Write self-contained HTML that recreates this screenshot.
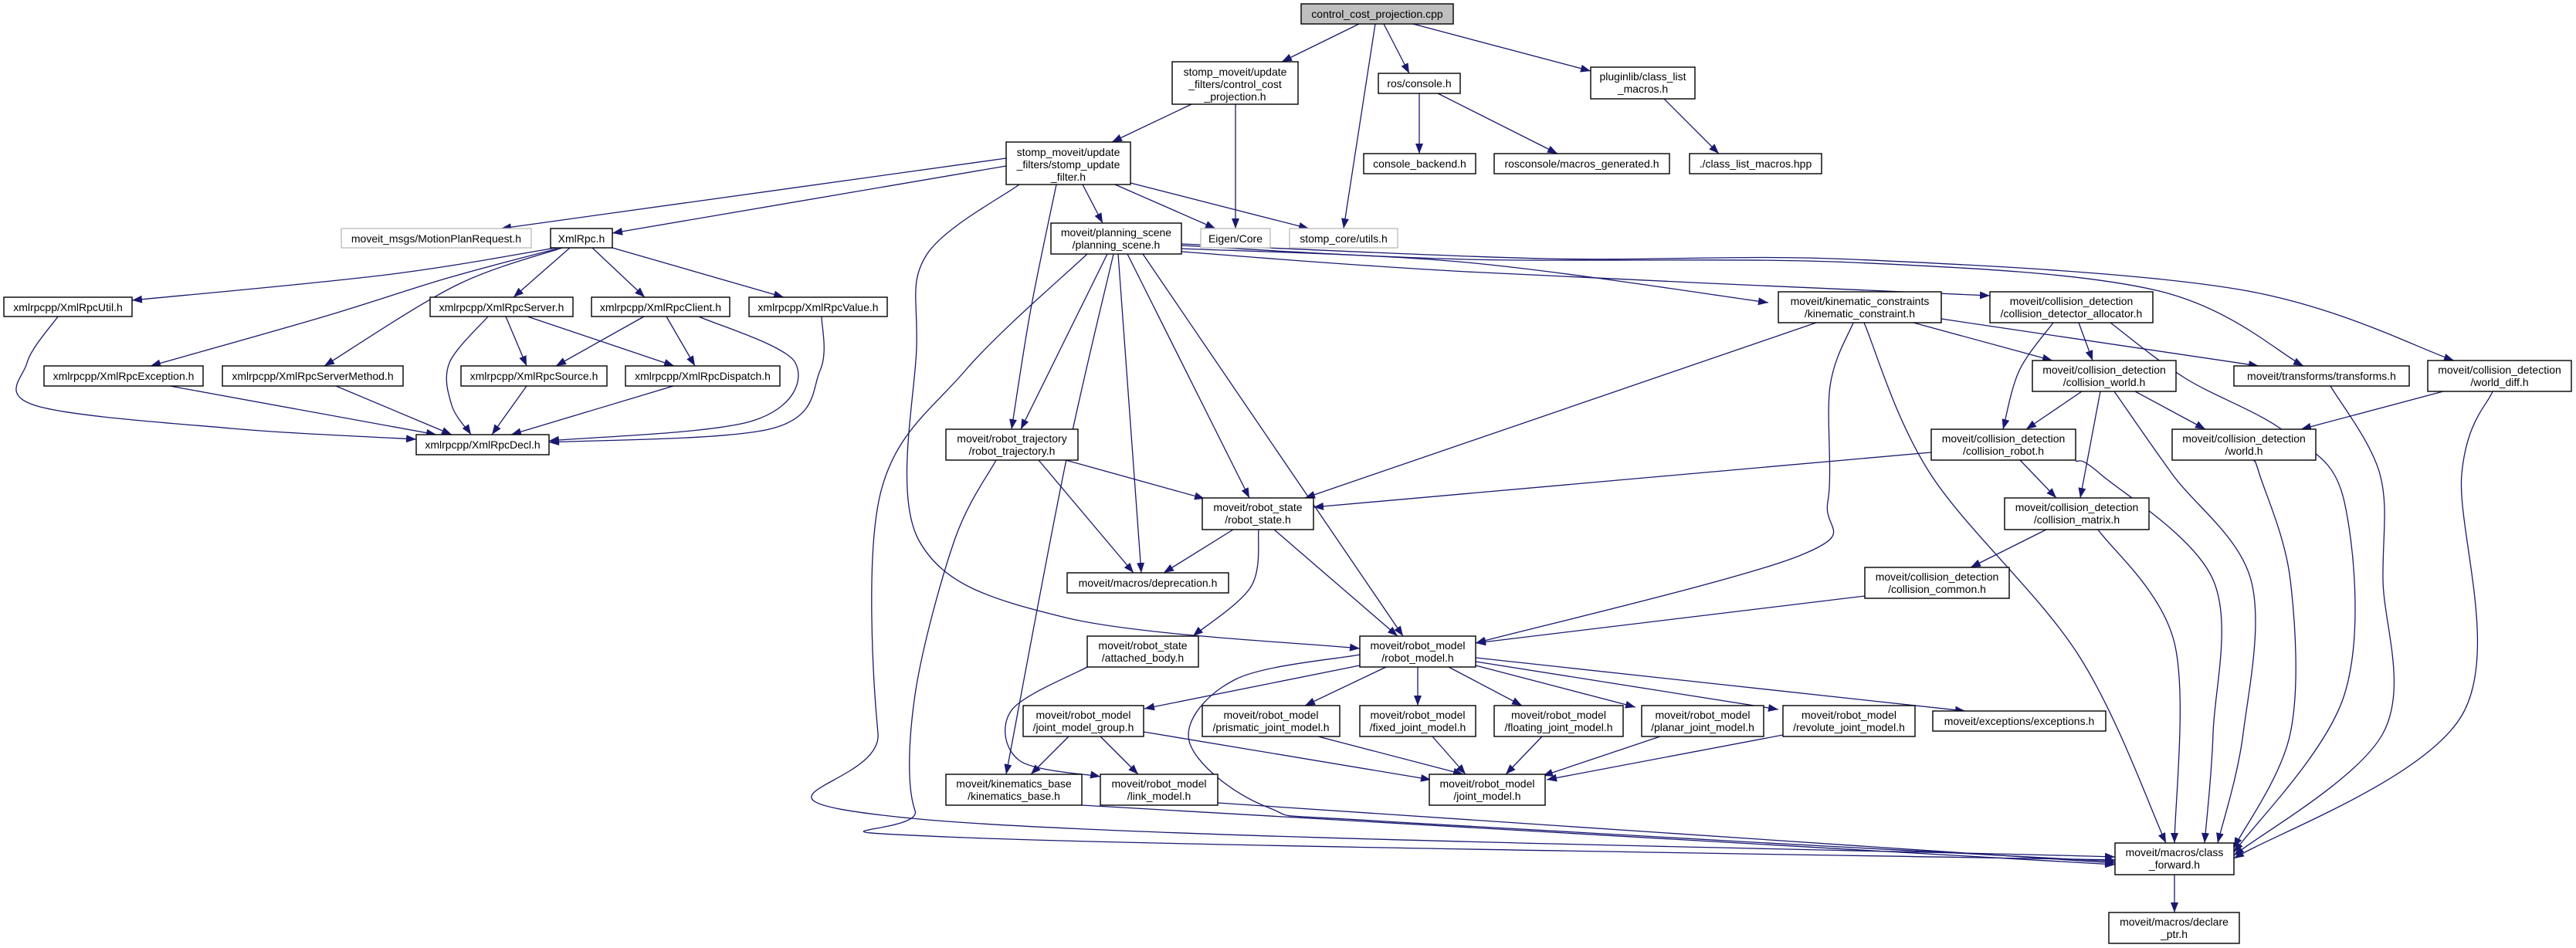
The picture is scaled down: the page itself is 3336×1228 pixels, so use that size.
<!DOCTYPE html>
<html><head><meta charset="utf-8">
<style>
html,body{margin:0;padding:0;background:#fff;}
svg{display:block;}
text{font-family:"Liberation Sans",sans-serif;font-size:14px;fill:#000;}
</style></head>
<body>
<svg id="g" width="3336" height="1228" viewBox="0 0 3336 1228" xmlns="http://www.w3.org/2000/svg">
<defs>
<marker id="ah" markerUnits="userSpaceOnUse" markerWidth="14" markerHeight="10" refX="13" refY="5" orient="auto">
<path d="M0,0 L13,5 L0,10 z" fill="#191970"/>
</marker>
</defs>
<g id="edges" fill="none" stroke="#191970" stroke-width="1.3"></g>
<g id="nodes" stroke-width="1.4">
<rect x="1685" y="5" width="197" height="26" fill="#bfbfbf" stroke="#000"/><text x="1783.5" y="23" text-anchor="middle">control_cost_projection.cpp</text>
<rect x="1518" y="80" width="163" height="55" fill="#fff" stroke="#000"/><text x="1599.5" y="98" text-anchor="middle">stomp_moveit/update</text><text x="1599.5" y="114" text-anchor="middle">_filters/control_cost</text><text x="1599.5" y="130" text-anchor="middle">_projection.h</text>
<rect x="1785" y="95" width="106" height="26" fill="#fff" stroke="#000"/><text x="1838" y="113" text-anchor="middle">ros/console.h</text>
<rect x="2060" y="87" width="135" height="41" fill="#fff" stroke="#000"/><text x="2127.5" y="104" text-anchor="middle">pluginlib/class_list</text><text x="2127.5" y="120" text-anchor="middle">_macros.h</text>
<rect x="1766" y="199" width="145" height="26" fill="#fff" stroke="#000"/><text x="1838.5" y="217" text-anchor="middle">console_backend.h</text>
<rect x="1935" y="199" width="227" height="26" fill="#fff" stroke="#000"/><text x="2048.5" y="217" text-anchor="middle">rosconsole/macros_generated.h</text>
<rect x="2188" y="199" width="171" height="26" fill="#fff" stroke="#000"/><text x="2273.5" y="217" text-anchor="middle">./class_list_macros.hpp</text>
<rect x="1303" y="184" width="161" height="55" fill="#fff" stroke="#000"/><text x="1383.5" y="202" text-anchor="middle">stomp_moveit/update</text><text x="1383.5" y="218" text-anchor="middle">_filters/stomp_update</text><text x="1383.5" y="234" text-anchor="middle">_filter.h</text>
<rect x="442" y="296" width="246" height="25" fill="#fff" stroke="#bfbfbf"/><text x="565" y="314" text-anchor="middle">moveit_msgs/MotionPlanRequest.h</text>
<rect x="713" y="296" width="80" height="25" fill="#fff" stroke="#000"/><text x="753" y="314" text-anchor="middle">XmlRpc.h</text>
<rect x="1555" y="296" width="90" height="25" fill="#fff" stroke="#bfbfbf"/><text x="1600" y="314" text-anchor="middle">Eigen/Core</text>
<rect x="1670" y="296" width="140" height="25" fill="#fff" stroke="#bfbfbf"/><text x="1740" y="314" text-anchor="middle">stomp_core/utils.h</text>
<rect x="1361" y="289" width="169" height="40" fill="#fff" stroke="#000"/><text x="1445.5" y="306" text-anchor="middle">moveit/planning_scene</text><text x="1445.5" y="322" text-anchor="middle">/planning_scene.h</text>
<rect x="5" y="385" width="166" height="25" fill="#fff" stroke="#000"/><text x="88" y="403" text-anchor="middle">xmlrpcpp/XmlRpcUtil.h</text>
<rect x="557" y="385" width="185" height="25" fill="#fff" stroke="#000"/><text x="649.5" y="403" text-anchor="middle">xmlrpcpp/XmlRpcServer.h</text>
<rect x="766" y="385" width="179" height="25" fill="#fff" stroke="#000"/><text x="855.5" y="403" text-anchor="middle">xmlrpcpp/XmlRpcClient.h</text>
<rect x="970" y="385" width="179" height="25" fill="#fff" stroke="#000"/><text x="1059.5" y="403" text-anchor="middle">xmlrpcpp/XmlRpcValue.h</text>
<rect x="57" y="474" width="206" height="26" fill="#fff" stroke="#000"/><text x="160" y="492" text-anchor="middle">xmlrpcpp/XmlRpcException.h</text>
<rect x="288" y="474" width="234" height="26" fill="#fff" stroke="#000"/><text x="405" y="492" text-anchor="middle">xmlrpcpp/XmlRpcServerMethod.h</text>
<rect x="597" y="474" width="189" height="26" fill="#fff" stroke="#000"/><text x="691.5" y="492" text-anchor="middle">xmlrpcpp/XmlRpcSource.h</text>
<rect x="810" y="474" width="200" height="26" fill="#fff" stroke="#000"/><text x="910" y="492" text-anchor="middle">xmlrpcpp/XmlRpcDispatch.h</text>
<rect x="539" y="563" width="172" height="26" fill="#fff" stroke="#000"/><text x="625" y="581" text-anchor="middle">xmlrpcpp/XmlRpcDecl.h</text>
<rect x="2303" y="378" width="211" height="40" fill="#fff" stroke="#000"/><text x="2408.5" y="395" text-anchor="middle">moveit/kinematic_constraints</text><text x="2408.5" y="411" text-anchor="middle">/kinematic_constraint.h</text>
<rect x="2577" y="378" width="211" height="40" fill="#fff" stroke="#000"/><text x="2682.5" y="395" text-anchor="middle">moveit/collision_detection</text><text x="2682.5" y="411" text-anchor="middle">/collision_detector_allocator.h</text>
<rect x="2632" y="467" width="186" height="40" fill="#fff" stroke="#000"/><text x="2725" y="484" text-anchor="middle">moveit/collision_detection</text><text x="2725" y="500" text-anchor="middle">/collision_world.h</text>
<rect x="2893" y="474" width="227" height="26" fill="#fff" stroke="#000"/><text x="3006.5" y="492" text-anchor="middle">moveit/transforms/transforms.h</text>
<rect x="3144" y="467" width="186" height="40" fill="#fff" stroke="#000"/><text x="3237" y="484" text-anchor="middle">moveit/collision_detection</text><text x="3237" y="500" text-anchor="middle">/world_diff.h</text>
<rect x="2501" y="556" width="187" height="40" fill="#fff" stroke="#000"/><text x="2594.5" y="573" text-anchor="middle">moveit/collision_detection</text><text x="2594.5" y="589" text-anchor="middle">/collision_robot.h</text>
<rect x="2813" y="556" width="186" height="40" fill="#fff" stroke="#000"/><text x="2906" y="573" text-anchor="middle">moveit/collision_detection</text><text x="2906" y="589" text-anchor="middle">/world.h</text>
<rect x="1225" y="556" width="171" height="40" fill="#fff" stroke="#000"/><text x="1310.5" y="573" text-anchor="middle">moveit/robot_trajectory</text><text x="1310.5" y="589" text-anchor="middle">/robot_trajectory.h</text>
<rect x="1557" y="645" width="144" height="41" fill="#fff" stroke="#000"/><text x="1629" y="662" text-anchor="middle">moveit/robot_state</text><text x="1629" y="678" text-anchor="middle">/robot_state.h</text>
<rect x="2596" y="645" width="187" height="41" fill="#fff" stroke="#000"/><text x="2689.5" y="662" text-anchor="middle">moveit/collision_detection</text><text x="2689.5" y="678" text-anchor="middle">/collision_matrix.h</text>
<rect x="1382" y="742" width="209" height="26" fill="#fff" stroke="#000"/><text x="1486.5" y="760" text-anchor="middle">moveit/macros/deprecation.h</text>
<rect x="2415" y="735" width="187" height="40" fill="#fff" stroke="#000"/><text x="2508.5" y="752" text-anchor="middle">moveit/collision_detection</text><text x="2508.5" y="768" text-anchor="middle">/collision_common.h</text>
<rect x="1408" y="824" width="144" height="40" fill="#fff" stroke="#000"/><text x="1480" y="841" text-anchor="middle">moveit/robot_state</text><text x="1480" y="857" text-anchor="middle">/attached_body.h</text>
<rect x="1761" y="824" width="150" height="40" fill="#fff" stroke="#000"/><text x="1836" y="841" text-anchor="middle">moveit/robot_model</text><text x="1836" y="857" text-anchor="middle">/robot_model.h</text>
<rect x="1325" y="914" width="156" height="40" fill="#fff" stroke="#000"/><text x="1403" y="931" text-anchor="middle">moveit/robot_model</text><text x="1403" y="947" text-anchor="middle">/joint_model_group.h</text>
<rect x="1557" y="914" width="178" height="40" fill="#fff" stroke="#000"/><text x="1646" y="931" text-anchor="middle">moveit/robot_model</text><text x="1646" y="947" text-anchor="middle">/prismatic_joint_model.h</text>
<rect x="1761" y="914" width="150" height="40" fill="#fff" stroke="#000"/><text x="1836" y="931" text-anchor="middle">moveit/robot_model</text><text x="1836" y="947" text-anchor="middle">/fixed_joint_model.h</text>
<rect x="1935" y="914" width="167" height="40" fill="#fff" stroke="#000"/><text x="2018.5" y="931" text-anchor="middle">moveit/robot_model</text><text x="2018.5" y="947" text-anchor="middle">/floating_joint_model.h</text>
<rect x="2126" y="914" width="158" height="40" fill="#fff" stroke="#000"/><text x="2205" y="931" text-anchor="middle">moveit/robot_model</text><text x="2205" y="947" text-anchor="middle">/planar_joint_model.h</text>
<rect x="2309" y="914" width="171" height="40" fill="#fff" stroke="#000"/><text x="2394.5" y="931" text-anchor="middle">moveit/robot_model</text><text x="2394.5" y="947" text-anchor="middle">/revolute_joint_model.h</text>
<rect x="2503" y="921" width="224" height="26" fill="#fff" stroke="#000"/><text x="2615" y="939" text-anchor="middle">moveit/exceptions/exceptions.h</text>
<rect x="1225" y="1003" width="176" height="40" fill="#fff" stroke="#000"/><text x="1313" y="1020" text-anchor="middle">moveit/kinematics_base</text><text x="1313" y="1036" text-anchor="middle">/kinematics_base.h</text>
<rect x="1425" y="1003" width="152" height="40" fill="#fff" stroke="#000"/><text x="1501" y="1020" text-anchor="middle">moveit/robot_model</text><text x="1501" y="1036" text-anchor="middle">/link_model.h</text>
<rect x="1851" y="1003" width="150" height="40" fill="#fff" stroke="#000"/><text x="1926" y="1020" text-anchor="middle">moveit/robot_model</text><text x="1926" y="1036" text-anchor="middle">/joint_model.h</text>
<rect x="2739" y="1092" width="154" height="41" fill="#fff" stroke="#000"/><text x="2816" y="1109" text-anchor="middle">moveit/macros/class</text><text x="2816" y="1125" text-anchor="middle">_forward.h</text>
<rect x="2731" y="1182" width="169" height="40" fill="#fff" stroke="#000"/><text x="2815.5" y="1199" text-anchor="middle">moveit/macros/declare</text><text x="2815.5" y="1215" text-anchor="middle">_ptr.h</text>
</g>
</svg>
<script>
var E=[
[[1760,31],[1660,80]],[[1781,31],[1740,296]],[[1792,31],[1825,95]],[[1830,31],[2060,92]],
[[1543,135],[1440,184]],[[1600,135],[1600,296]],
[[1838,121],[1838,199]],[[1862,121],[2017,199]],[[2155,128],[2226,199]],
[[1303,205],[649,296]],[[1303,215],[793,302]],[[1444,239],[1574,296]],[[1464,237],[1695,296]],[[1402,239],[1428,289]],
[[1368,239],[1335,400],[1310,556]],
[[1320,239],[1200,330],[1187,450],[1190,700],[1380,800],[1761,840]],
[[720,321],[500,356],[171,389]],[[722,322],[580,360],[420,410],[195,474]],[[728,321],[590,370],[420,474]],
[[738,321],[665,385]],[[767,321],[835,385]],[[793,321],[1015,385]],
[[75,410],[35,470],[45,525],[300,555],[539,569]],
[[655,410],[682,474]],[[683,410],[873,474]],[[632,410],[582,470],[585,525],[610,563]],
[[834,410],[720,474]],[[863,410],[900,474]],[[905,410],[1030,470],[975,545],[711,571]],
[[1064,410],[1062,480],[1000,555],[711,573]],
[[220,500],[565,563]],[[435,500],[585,563]],[[682,500],[637,563]],[[872,500],[662,563]],
[[1530,322],[1900,340],[2290,392]],
[[1530,326],[1900,352],[2577,383]],
[[1530,318],[1900,336],[2400,340],[2792,376],[2983,474]],
[[1530,316],[2000,335],[2400,336],[2900,375],[3178,467]],
[[1480,329],[1817,824]],[[1460,329],[1618,645]],[[1448,329],[1478,742]],[[1434,329],[1322,556]],
[[1442,329],[1380,600],[1303,1003]],
[[1408,329],[1250,480],[1140,640],[1137,950],[1180,1060],[2739,1110]],
[[1380,596],[1560,646]],[[1345,596],[1468,742]],
[[1290,596],[1236,700],[1185,900],[1185,1050],[1250,1085],[2739,1114]],
[[2352,418],[1690,645]],
[[2400,418],[2370,500],[2367,650],[2330,720],[1911,833]],
[[2414,418],[2500,614],[2692,849],[2805,1092]],
[[2478,418],[2658,467]],[[2514,413],[2925,474]],
[[2692,418],[2710,467]],[[2659,418],[2615,480],[2594,556]],
[[2733,418],[2830,490],[2960,560],[3036,650],[3036,900],[2893,1104]],
[[2696,507],[2624,556]],[[2765,507],[2856,556]],[[2720,507],[2694,645]],
[[2738,507],[2813,614],[2915,751],[2905,950],[2872,1092]],
[[2688,597],[2720,614],[2866,751],[2866,950],[2855,1092]],
[[2919,597],[2926,614],[2966,751],[2966,950],[2893,1098]],
[[3018,500],[3082,614],[3086,751],[3086,950],[2893,1108]],
[[3164,507],[2980,556]],
[[3228,507],[3188,614],[3188,927],[2893,1112]],
[[2616,596],[2663,645]],
[[2501,586],[1701,657]],
[[2717,686],[2816,833],[2816,1092]],
[[2650,686],[2552,735]],[[2415,772],[1911,833]],
[[1597,686],[1507,742]],[[1630,686],[1620,760],[1545,824]],[[1650,686],[1810,824]],
[[1408,864],[1310,920],[1320,985],[1425,1006]],
[[1761,862],[1482,918]],[[1795,864],[1690,914]],[[1836,864],[1836,914]],[[1876,864],[1971,914]],
[[1911,862],[2118,916]],[[1911,857],[2303,919]],[[1911,852],[2545,921]],
[[1761,848],[1600,880],[1540,960],[1640,1045],[1810,1065],[2739,1116]],
[[1384,954],[1335,1003]],[[1425,954],[1474,1003]],[[1481,948],[1853,1010]],
[[1707,954],[1895,1003]],[[1855,954],[1898,1003]],[[1997,954],[1950,1003]],
[[2150,954],[1998,1005]],[[2309,952],[2003,1010]],
[[1401,1043],[2739,1120]],[[1577,1040],[2739,1118]],
[[2816,1133],[2816,1182]]
];
function pathD(p){
 if(p.length==2)return "M"+p[0]+" L"+p[1];
 var d="M"+p[0];
 for(var i=0;i<p.length-1;i++){
  var p0=p[i-1]||p[i],p1=p[i],p2=p[i+1],p3=p[i+2]||p2;
  var c1=[p1[0]+(p2[0]-p0[0])/6,p1[1]+(p2[1]-p0[1])/6];
  var c2=[p2[0]-(p3[0]-p1[0])/6,p2[1]-(p3[1]-p1[1])/6];
  d+=" C"+c1+" "+c2+" "+p2;
 }
 return d;
}
var g=document.getElementById("edges"),ns="http://www.w3.org/2000/svg";
E.forEach(function(p){var e=document.createElementNS(ns,"path");e.setAttribute("d",pathD(p));e.setAttribute("marker-end","url(#ah)");g.appendChild(e);});
</script>
</body></html>
